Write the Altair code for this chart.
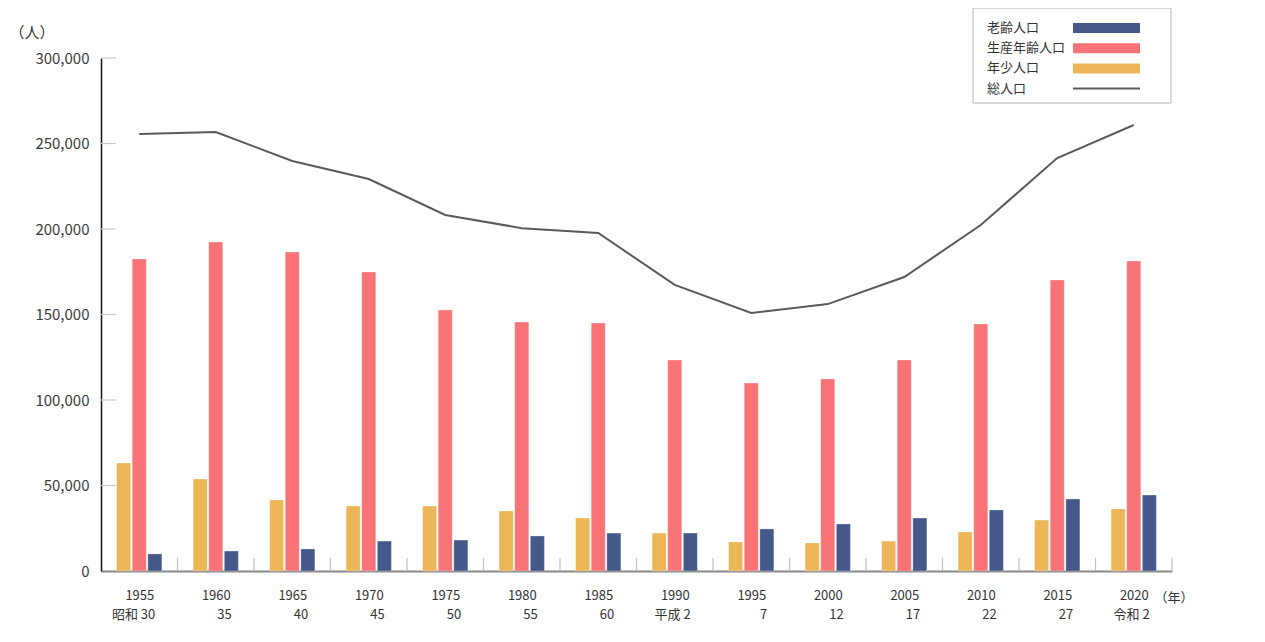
import altair as alt
import pandas as pd

years = ["1955", "1960", "1965", "1970", "1975", "1980", "1985", "1990", "1995", "2000", "2005", "2010", "2015", "2020"]
eras = ["昭和 30", "35", "40", "45", "50", "55", "60", "平成 2", "7", "12", "17", "22", "27", "令和 2"]
young = [63200, 53800, 41500, 38000, 38000, 35100, 31000, 22200, 17000, 16400, 17500, 22800, 29800, 36300]
working = [182500, 192400, 186500, 174900, 152600, 145600, 145000, 123400, 110000, 112300, 123400, 144400, 170200, 181300]
elderly = [10000, 11700, 12900, 17500, 18100, 20500, 22200, 22200, 24600, 27500, 31000, 35700, 42100, 44400]
total = [255500, 256700, 239800, 229200, 208200, 200500, 197700, 167300, 150900, 156100, 171900, 202300, 241500, 260800]
y_ticks = [0, 50000, 100000, 150000, 200000, 250000, 300000]

groups = ["年少人口", "生産年齢人口", "老齢人口"]
group_colors = ["#ecb556", "#f77375", "#44598a"]
legend_names = ["老齢人口", "生産年齢人口", "年少人口", "総人口"]
legend_colors = ["#44598a", "#f77375", "#ecb556", "#5a5a5a"]

FONT = "Noto Sans CJK JP"

rows = []
for i, y in enumerate(years):
    for g, vals in zip(groups, [young, working, elderly]):
        rows.append({"year": y, "group": g, "value": vals[i]})
bars_df = pd.DataFrame(rows)
tot_df = pd.DataFrame({"year": years, "total": total})
tick_df = pd.DataFrame({"v": y_ticks[1:]})
lab_df = pd.DataFrame({"year": years, "era": eras})

x_scale = alt.Scale(domain=years, paddingInner=0, paddingOuter=0)
y_scale = alt.Scale(domain=[0, 300000])

x_axis = alt.Axis(title="（年）", titleAngle=0, titleAlign="left", titleBaseline="middle",
                  titleX=1053, titleY=26, titleFont=FONT, titleFontSize=13,
                  titleFontWeight="normal", titleColor="#333",
                  labels=False, ticks=False, grid=False, domainColor="#888", domainWidth=2)
y_axis = alt.Axis(title="（人）", titleAngle=0, titleAlign="left", titleBaseline="middle",
                  titleX=-92, titleY=-26, titleFont=FONT, titleFontSize=15,
                  titleFontWeight="normal", titleColor="#333",
                  values=y_ticks, format=",.0f", labelFont=FONT, labelFontSize=15,
                  labelColor="#3a3a3a", labelPadding=12, ticks=False, grid=False,
                  domainColor="#111", domainWidth=1.5)

bars = alt.Chart(bars_df).mark_bar(stroke="white", strokeWidth=0.6, strokeOpacity=0.5).encode(
    x=alt.X("year:N", scale=x_scale, sort=years, axis=x_axis),
    xOffset=alt.XOffset("group:N", sort=groups,
                        scale=alt.Scale(domain=groups, paddingInner=0.1, paddingOuter=1)),
    y=alt.Y("value:Q", scale=y_scale, axis=y_axis),
    color=alt.Color("group:N", scale=alt.Scale(domain=groups, range=group_colors), legend=None),
)

line = alt.Chart(tot_df).mark_line(color="#5a5a5a", strokeWidth=2).encode(
    x=alt.X("year:N", sort=years, axis=x_axis),
    y=alt.Y("total:Q", axis=y_axis),
)

stubs = alt.Chart(tick_df).mark_rule(color="#c8c8c8", strokeWidth=1.2).encode(
    y=alt.Y("v:Q", axis=y_axis),
    x=alt.value(0), x2=alt.value(15),
)

seps = alt.Chart(lab_df).mark_rule(color="#c0c0c0", strokeWidth=1.2).encode(
    x=alt.X("year:N", sort=years, bandPosition=1, axis=x_axis),
    y=alt.value(500), y2=alt.value(513),
)

year_txt = alt.Chart(lab_df).mark_text(align="right", baseline="middle", dx=15, font=FONT, fontSize=13, color="#333").encode(
    x=alt.X("year:N", sort=years, axis=x_axis), y=alt.value(538), text="year:N",
)
era_txt = alt.Chart(lab_df).mark_text(align="right", baseline="middle", dx=16, font=FONT, fontSize=13, color="#333").encode(
    x=alt.X("year:N", sort=years, axis=x_axis), y=alt.value(557), text="era:N",
)

# manual legend (box top-right)
leg_box = alt.Chart(pd.DataFrame({"a": [0]})).mark_rect(fill="white", stroke="#b5b5b5", strokeWidth=1).encode(
    x=alt.value(872), x2=alt.value(1070), y=alt.value(-50), y2=alt.value(45),
)
leg_df = pd.DataFrame({"name": legend_names, "i": list(range(4))})
leg_text = alt.Chart(leg_df).mark_text(align="left", baseline="middle", font=FONT, fontSize=13, color="#333").transform_calculate(
    py="-30 + datum.i * 20.2"
).encode(
    x=alt.value(886), y=alt.Y("py:Q", scale=None), text="name:N",
)
sw_df = pd.DataFrame({"name": legend_names[:3], "i": [0, 1, 2], "c": legend_colors[:3]})
leg_sw = alt.Chart(sw_df).mark_rect().transform_calculate(
    py="-35 + datum.i * 20.2", py2="-25 + datum.i * 20.2"
).encode(
    x=alt.value(972), x2=alt.value(1039),
    y=alt.Y("py:Q", scale=None), y2="py2:Q",
    color=alt.Color("c:N", scale=None),
)
leg_line = alt.Chart(pd.DataFrame({"a": [0]})).mark_rule(color="#5a5a5a", strokeWidth=2).encode(
    x=alt.value(972), x2=alt.value(1039), y=alt.value(30.6),
)

chart = alt.layer(bars, line, stubs, seps, year_txt, era_txt, leg_box, leg_text, leg_sw, leg_line).resolve_scale(
    color="independent"
).properties(
    width=1071, height=513,
    autosize=alt.AutoSizeParams(type="none"),
    padding={"left": 93, "top": 50, "right": 60, "bottom": 60},
).configure(font=FONT).configure_view(stroke=None)

chart.save("out.html", embed_options={"renderer": "svg", "actions": False})
